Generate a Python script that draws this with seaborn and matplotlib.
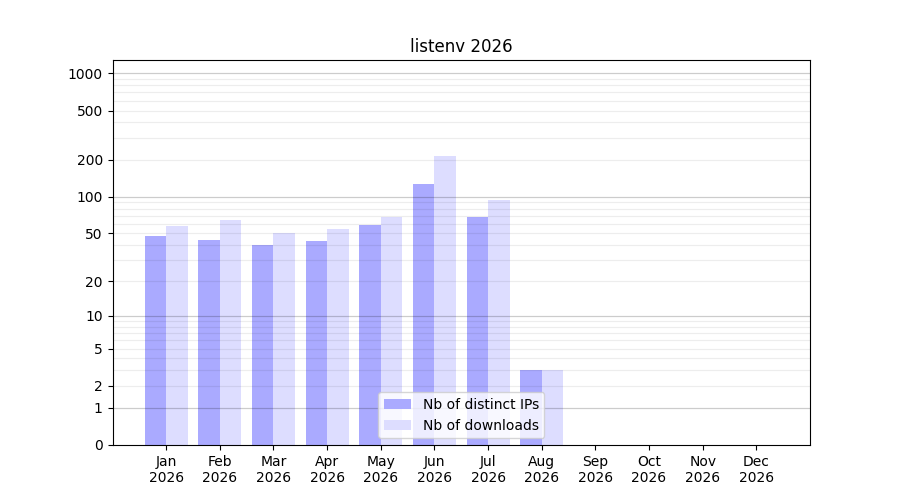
import numpy as np
import pandas as pd
import matplotlib
matplotlib.use("Agg")
import matplotlib.pyplot as plt
import seaborn as sns
from matplotlib.ticker import FixedLocator, FixedFormatter, NullLocator

months = ["Jan", "Feb", "Mar", "Apr", "May", "Jun", "Jul", "Aug", "Sep", "Oct", "Nov", "Dec"]
year = "2026"
distinct_ips = [48, 44, 40, 43, 59, 127, 68, 3, 0, 0, 0, 0]
downloads = [58, 65, 50, 54, 68, 214, 94, 3, 0, 0, 0, 0]
series_names = ["Nb of distinct IPs", "Nb of downloads"]
series_colors = ["#aaaaff", "#ddddff"]
ytick_values = [0, 1, 2, 5, 10, 20, 50, 100, 200, 500, 1000]

df = pd.DataFrame({
    "month": months * 2,
    "value": distinct_ips + downloads,
    "series": [series_names[0]] * len(months) + [series_names[1]] * len(months),
})

fig, ax = plt.subplots(figsize=(9, 5), dpi=100)

sns.barplot(data=df, x="month", y="value", hue="series", order=months,
            hue_order=series_names, palette=series_colors, width=0.8,
            saturation=1, ax=ax, zorder=1, legend=True)

ax.set_yscale("function", functions=(lambda v: np.log10(1 + np.clip(v, 0, None)),
                                     lambda v: 10 ** v - 1))
ax.set_ylim(0, 1280)
ax.set_xlim(-1, 12)

# grid lines
for dec in [1, 10, 100, 1000]:
    ax.axhline(dec, color="k", alpha=0.2, lw=0.9, zorder=3)
    for m in range(2, 10):
        v = dec * m
        if v < 1280:
            ax.axhline(v, color="k", alpha=0.07, lw=0.9, zorder=3)

ax.yaxis.set_major_locator(FixedLocator(ytick_values))
ax.yaxis.set_major_formatter(FixedFormatter([str(v) for v in ytick_values]))
ax.yaxis.set_minor_locator(NullLocator())

ax.set_xticks(range(len(months)))
ax.set_xticklabels([f"{m}\n{year}" for m in months])
ax.set_xlabel("")
ax.set_ylabel("")
ax.set_title(f"listenv {year}")

ax.legend(loc="lower center", title=None)

fig.savefig("out.png", dpi=100)
